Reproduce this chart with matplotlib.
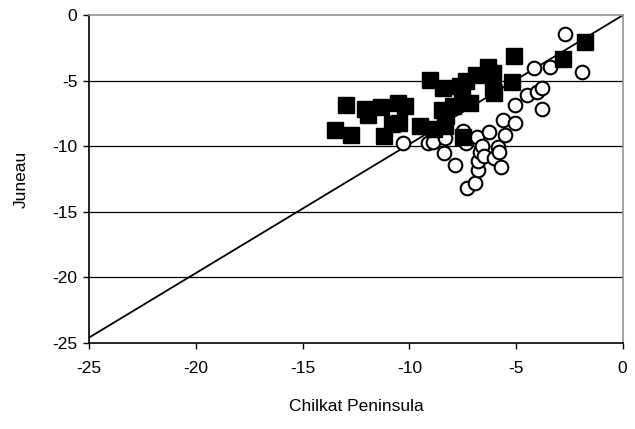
import matplotlib
matplotlib.use("Agg")
import matplotlib.pyplot as plt

plt.rcParams['font.family'] = ['Liberation Sans', 'DejaVu Sans']
plt.rcParams['axes.unicode_minus'] = False

# open circles
circle_x = [-10.28, -9.12, -8.90, -8.32, -8.36, -7.84, -7.50, -7.33, -7.31, -6.90,
            -6.80, -6.77, -6.70, -6.84, -6.58, -6.52, -6.28, -6.05, -5.85, -5.82,
            -5.72, -5.62, -5.50, -5.05, -5.05, -4.50, -4.15, -4.03, -3.80, -3.78,
            -3.42, -2.70, -1.90]
circle_y = [-9.77, -9.72, -9.68, -9.40, -10.52, -11.44, -8.80, -9.75, -13.22, -12.82,
            -11.78, -11.15, -10.45, -9.30, -9.95, -10.75, -8.90, -10.90, -10.05, -10.45,
            -11.55, -7.98, -9.15, -8.25, -6.85, -6.08, -4.06, -5.83, -5.57, -7.12,
            -3.92, -1.40, -4.36]

# filled squares
square_x = [-13.48, -12.97, -12.75, -12.06, -11.92, -11.32, -11.20, -10.80, -10.52, -10.50,
            -10.20, -9.50, -9.03, -8.85, -8.40, -8.45, -8.30, -8.35, -7.95, -7.62,
            -7.35, -7.52, -7.15, -6.86, -6.32, -6.10, -6.10, -6.02, -7.48, -5.18,
            -5.10, -2.80, -1.75]
square_y = [-8.75, -6.85, -9.15, -7.12, -7.65, -6.98, -9.22, -8.30, -6.70, -8.22,
            -6.96, -8.45, -4.96, -8.70, -5.58, -7.20, -7.72, -8.45, -6.90, -5.40,
            -5.05, -6.25, -6.70, -4.55, -3.92, -4.42, -5.55, -5.95, -9.30, -5.10,
            -3.12, -3.37, -2.04]

line_x = [-25, 0]
line_y = [-24.6, 0]

x_ticks = [-25, -20, -15, -10, -5, 0]
y_ticks = [-25, -20, -15, -10, -5, 0]

fig = plt.figure(figsize=(6.35, 4.29), dpi=100)
ax = fig.add_axes([0.1406, 0.2012, 0.84, 0.7631])

for yv in y_ticks[1:-1]:
    ax.axhline(yv, color='black', lw=0.9, zorder=1)

ax.plot(line_x, line_y, color='black', lw=1.3, zorder=2)
ax.plot(circle_x, circle_y, 'o', ms=9.8, mfc='white', mec='black', mew=1.5,
        linestyle='none', zorder=3)
ax.plot(square_x, square_y, 's', ms=11, mfc='black', mec='black',
        linestyle='none', zorder=4)

ax.set_xlim(-25, 0)
ax.set_ylim(-25, 0)
ax.set_xticks(x_ticks)
ax.set_yticks(y_ticks)
ax.tick_params(direction='out', length=4.5, width=1, labelsize=12.5)
ax.tick_params(axis='x', pad=9)
ax.tick_params(axis='y', pad=4)

ax.spines['left'].set_color('black')
ax.spines['bottom'].set_color('black')
ax.spines['top'].set_color('#909090')
ax.spines['right'].set_color('#909090')
for s in ax.spines.values():
    s.set_linewidth(1.2)

ax.set_xlabel('Chilkat Peninsula', fontsize=12.5, labelpad=16)
ax.set_ylabel('Juneau', fontsize=12.5, labelpad=17)

fig.savefig('out.png', dpi=100)
